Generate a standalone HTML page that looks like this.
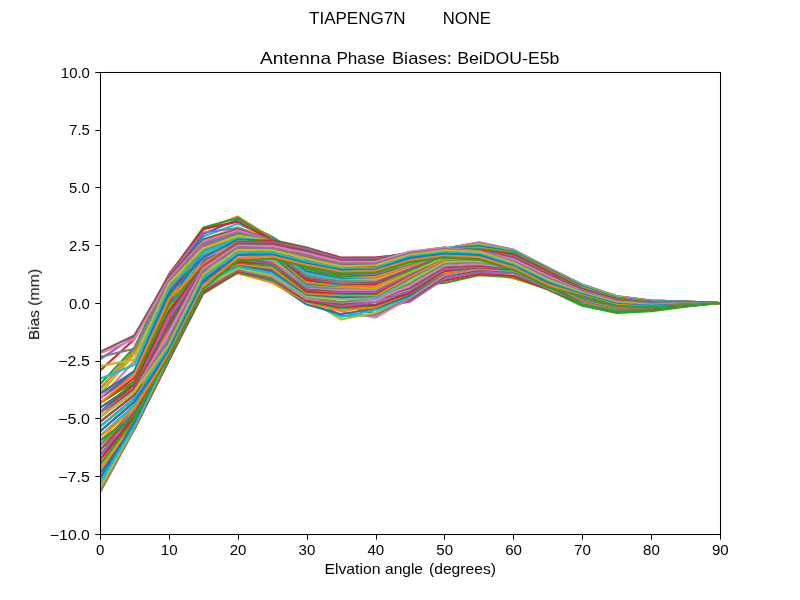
<!DOCTYPE html>
<html><head><meta charset="utf-8"><title>Antenna Phase Biases</title>
<style>
html,body{margin:0;padding:0;background:#fff;}
body{width:800px;height:600px;overflow:hidden;}
svg{display:block;}
text{font-family:"Liberation Sans",sans-serif;fill:#000;}
</style></head><body>
<svg width="800" height="600" viewBox="0 0 800 600">
<rect x="0" y="0" width="800" height="600" fill="#ffffff"/>
<defs><clipPath id="ax"><rect x="100" y="72" width="620" height="462"/></clipPath></defs>
<g clip-path="url(#ax)" fill="none" stroke-width="2.15" stroke-linejoin="round" stroke-linecap="square">
<polyline points="100.0,440.7 134.4,415.3 168.9,356.2 203.3,288.8 237.8,260.7 272.2,258.8 306.7,266.8 341.1,273.5 375.6,272.5 410.0,262.1 444.4,257.4 478.9,259.4 513.3,269.8 547.8,287.3 582.2,296.4 616.7,305.8 651.1,307.3 685.6,305.1 720.0,303.0" stroke="#1f77b4"/>
<polyline points="100.0,445.4 134.4,415.3 168.9,357.3 203.3,288.9 237.8,261.7 272.2,260.7 306.7,271.2 341.1,278.9 375.6,281.6 410.0,274.6 444.4,274.5 478.9,271.2 513.3,278.3 547.8,288.9 582.2,302.0 616.7,310.3 651.1,309.3 685.6,306.1 720.0,303.0" stroke="#ff7f0e"/>
<polyline points="100.0,450.1 134.4,415.3 168.9,357.3 203.3,288.9 237.8,264.0 272.2,263.0 306.7,275.8 341.1,285.9 375.6,290.8 410.0,284.7 444.4,283.0 478.9,275.2 513.3,277.1 547.8,289.5 582.2,305.8 616.7,313.0 651.1,311.2 685.6,306.7 720.0,303.0" stroke="#2ca02c"/>
<polyline points="100.0,454.8 134.4,418.7 168.9,357.3 203.3,291.2 237.8,264.0 272.2,265.3 306.7,278.1 341.1,292.8 375.6,297.7 410.0,295.3 444.4,280.6 478.9,273.8 513.3,275.7 547.8,289.1 582.2,303.6 616.7,310.8 651.1,309.6 685.6,306.2 720.0,303.0" stroke="#d62728"/>
<polyline points="100.0,454.8 134.4,418.7 168.9,357.3 203.3,291.2 237.8,265.4 272.2,267.3 306.7,282.8 341.1,297.7 375.6,307.1 410.0,301.7 444.4,278.7 478.9,272.1 513.3,273.3 547.8,288.6 582.2,302.8 616.7,310.1 651.1,309.2 685.6,306.0 720.0,303.0" stroke="#9467bd"/>
<polyline points="100.0,459.5 134.4,418.7 168.9,357.3 203.3,291.2 237.8,266.2 272.2,269.8 306.7,287.4 341.1,304.5 375.6,314.1 410.0,299.6 444.4,276.8 478.9,270.3 513.3,271.5 547.8,288.2 582.2,302.5 616.7,309.8 651.1,309.0 685.6,305.8 720.0,303.0" stroke="#8c564b"/>
<polyline points="100.0,464.2 134.4,422.1 168.9,358.1 203.3,291.1 237.8,268.5 272.2,272.1 306.7,289.7 341.1,311.4 375.6,317.5 410.0,297.7 444.4,275.0 478.9,268.9 513.3,270.8 547.8,287.9 582.2,302.2 616.7,309.5 651.1,308.8 685.6,305.7 720.0,303.0" stroke="#e377c2"/>
<polyline points="100.0,464.2 134.4,422.1 168.9,357.3 203.3,291.2 237.8,268.5 272.2,274.4 306.7,294.4 341.1,316.1 375.6,315.1 410.0,296.2 444.4,273.5 478.9,268.4 513.3,270.4 547.8,287.6 582.2,302.0 616.7,309.3 651.1,308.6 685.6,305.6 720.0,303.0" stroke="#7f7f7f"/>
<polyline points="100.0,468.9 134.4,425.5 168.9,359.9 203.3,291.2 237.8,269.7 272.2,276.8 306.7,298.2 341.1,319.5 375.6,312.7 410.0,295.3 444.4,272.6 478.9,268.1 513.3,270.4 547.8,287.3 582.2,301.8 616.7,309.1 651.1,308.5 685.6,305.5 720.0,303.0" stroke="#bcbd22"/>
<polyline points="100.0,473.6 134.4,425.5 168.9,359.9 203.3,291.2 237.8,270.8 272.2,278.9 306.7,301.3 341.1,316.6 375.6,310.2 410.0,295.4 444.4,272.4 478.9,268.0 513.3,270.4 547.8,286.9 582.2,301.5 616.7,308.8 651.1,308.3 685.6,305.5 720.0,303.0" stroke="#17becf"/>
<polyline points="100.0,473.6 134.4,425.5 168.9,359.9 203.3,291.2 237.8,270.8 272.2,281.2 306.7,304.5 341.1,314.2 375.6,308.3 410.0,295.4 444.4,272.4 478.9,267.8 513.3,269.3 547.8,286.5 582.2,301.2 616.7,308.5 651.1,308.2 685.6,305.4 720.0,303.0" stroke="#1f77b4"/>
<polyline points="100.0,478.3 134.4,425.5 168.9,359.9 203.3,291.2 237.8,273.1 272.2,282.5 306.7,302.1 341.1,310.8 375.6,307.1 410.0,293.1 444.4,272.4 478.9,268.0 513.3,269.3 547.8,286.1 582.2,301.1 616.7,308.3 651.1,308.1 685.6,305.4 720.0,303.0" stroke="#ff7f0e"/>
<polyline points="100.0,483.0 134.4,425.5 168.9,359.9 203.3,293.6 237.8,272.5 272.2,279.7 306.7,301.3 341.1,308.4 375.6,305.4 410.0,293.3 444.4,271.2 478.9,267.5 513.3,269.3 547.8,285.7 582.2,304.3 616.7,311.4 651.1,309.9 685.6,305.9 720.0,303.0" stroke="#2ca02c"/>
<polyline points="100.0,483.0 134.4,428.9 168.9,360.0 203.3,292.6 237.8,271.1 272.2,277.8 306.7,300.6 341.1,306.8 375.6,304.8 410.0,292.4 444.4,270.7 478.9,267.3 513.3,269.3 547.8,285.3 582.2,300.5 616.7,307.8 651.1,307.7 685.6,305.3 720.0,303.0" stroke="#d62728"/>
<polyline points="100.0,488.3 134.4,427.6 168.9,360.0 203.3,291.2 237.8,270.2 272.2,277.3 306.7,299.0 341.1,305.9 375.6,302.5 410.0,290.4 444.4,269.3 478.9,267.0 513.3,268.1 547.8,284.9 582.2,300.1 616.7,307.4 651.1,307.5 685.6,305.1 720.0,303.0" stroke="#9467bd"/>
<polyline points="100.0,492.4 134.4,428.9 168.9,359.9 203.3,291.2 237.8,268.5 272.2,276.7 306.7,299.2 341.1,304.5 375.6,300.1 410.0,288.0 444.4,267.4 478.9,265.6 513.3,268.1 547.8,284.5 582.2,299.8 616.7,307.3 651.1,307.4 685.6,305.1 720.0,303.0" stroke="#8c564b"/>
<polyline points="100.0,491.5 134.4,427.1 168.9,357.3 203.3,288.8 237.8,268.5 272.2,276.7 306.7,299.0 341.1,302.5 375.6,300.1 410.0,285.6 444.4,265.5 478.9,263.9 513.3,267.7 547.8,284.1 582.2,299.6 616.7,307.1 651.1,307.3 685.6,305.0 720.0,303.0" stroke="#e377c2"/>
<polyline points="100.0,490.5 134.4,426.9 168.9,357.3 203.3,286.5 237.8,268.5 272.2,275.9 306.7,297.3 341.1,302.1 375.6,297.8 410.0,283.2 444.4,263.6 478.9,262.2 513.3,267.0 547.8,283.7 582.2,299.3 616.7,306.9 651.1,307.2 685.6,305.0 720.0,303.0" stroke="#7f7f7f"/>
<polyline points="100.0,488.1 134.4,426.6 168.9,354.3 203.3,286.5 237.8,268.3 272.2,275.4 306.7,296.7 341.1,299.6 375.6,297.7 410.0,280.8 444.4,261.7 478.9,260.9 513.3,267.0 547.8,283.2 582.2,299.1 616.7,306.6 651.1,307.0 685.6,304.9 720.0,303.0" stroke="#bcbd22"/>
<polyline points="100.0,483.0 134.4,425.5 168.9,352.0 203.3,284.1 237.8,266.4 272.2,273.5 306.7,295.3 341.1,297.5 375.6,297.8 410.0,278.9 444.4,260.3 478.9,259.3 513.3,265.9 547.8,282.8 582.2,298.8 616.7,306.4 651.1,306.8 685.6,304.8 720.0,303.0" stroke="#17becf"/>
<polyline points="100.0,478.3 134.4,422.1 168.9,352.0 203.3,282.1 237.8,264.5 272.2,271.1 306.7,294.4 341.1,297.2 375.6,295.7 410.0,277.5 444.4,259.3 478.9,259.5 513.3,265.9 547.8,282.3 582.2,298.6 616.7,306.1 651.1,306.7 685.6,304.7 720.0,303.0" stroke="#1f77b4"/>
<polyline points="100.0,468.9 134.4,418.7 168.9,349.3 203.3,279.4 237.8,264.0 272.2,268.3 306.7,293.4 341.1,295.2 375.6,295.5 410.0,276.9 444.4,259.3 478.9,259.3 513.3,265.9 547.8,281.9 582.2,298.3 616.7,305.9 651.1,306.5 685.6,304.6 720.0,303.0" stroke="#ff7f0e"/>
<polyline points="100.0,464.2 134.4,418.7 168.9,346.7 203.3,279.4 237.8,262.6 272.2,265.4 306.7,292.1 341.1,293.8 375.6,293.8 410.0,274.6 444.4,257.2 478.9,259.3 513.3,264.8 547.8,281.4 582.2,298.0 616.7,305.6 651.1,306.3 685.6,304.6 720.0,303.0" stroke="#2ca02c"/>
<polyline points="100.0,459.5 134.4,415.3 168.9,344.0 203.3,277.0 237.8,261.7 272.2,263.0 306.7,291.5 341.1,292.8 375.6,293.2 410.0,274.6 444.4,257.2 478.9,257.2 513.3,264.8 547.8,281.0 582.2,297.7 616.7,305.4 651.1,306.1 685.6,304.5 720.0,303.0" stroke="#d62728"/>
<polyline points="100.0,454.8 134.4,411.9 168.9,341.3 203.3,277.0 237.8,259.4 272.2,263.0 306.7,289.7 341.1,291.9 375.6,291.9 410.0,274.1 444.4,257.4 478.9,257.6 513.3,264.0 547.8,280.5 582.2,297.5 616.7,305.1 651.1,306.0 685.6,304.4 720.0,303.0" stroke="#9467bd"/>
<polyline points="100.0,450.1 134.4,411.9 168.9,338.7 203.3,274.5 237.8,258.8 272.2,261.6 306.7,289.5 341.1,290.5 375.6,290.8 410.0,272.3 444.4,257.2 478.9,257.2 513.3,263.7 547.8,280.1 582.2,297.2 616.7,304.9 651.1,305.8 685.6,304.3 720.0,303.0" stroke="#8c564b"/>
<polyline points="100.0,445.4 134.4,408.5 168.9,337.2 203.3,272.2 237.8,257.1 272.2,260.7 306.7,287.4 341.1,290.0 375.6,289.9 410.0,272.3 444.4,257.2 478.9,257.2 513.3,262.5 547.8,279.6 582.2,296.9 616.7,304.6 651.1,305.6 685.6,304.2 720.0,303.0" stroke="#e377c2"/>
<polyline points="100.0,445.4 134.4,408.5 168.9,336.0 203.3,272.2 237.8,254.8 272.2,258.5 306.7,286.6 341.1,288.2 375.6,288.5 410.0,272.3 444.4,257.2 478.9,257.2 513.3,262.5 547.8,279.2 582.2,296.7 616.7,304.4 651.1,305.5 685.6,304.2 720.0,303.0" stroke="#7f7f7f"/>
<polyline points="100.0,440.7 134.4,405.1 168.9,333.3 203.3,269.9 237.8,254.8 272.2,258.5 306.7,285.1 341.1,287.0 375.6,288.0 410.0,272.3 444.4,257.2 478.9,255.0 513.3,262.5 547.8,278.7 582.2,296.4 616.7,304.2 651.1,305.3 685.6,304.1 720.0,303.0" stroke="#bcbd22"/>
<polyline points="100.0,436.0 134.4,405.1 168.9,330.7 203.3,267.5 237.8,252.6 272.2,256.2 306.7,285.1 341.1,285.9 375.6,286.2 410.0,270.0 444.4,255.0 478.9,255.0 513.3,261.4 547.8,278.3 582.2,296.1 616.7,303.9 651.1,305.1 685.6,304.0 720.0,303.0" stroke="#17becf"/>
<polyline points="100.0,431.3 134.4,401.7 168.9,327.7 203.3,266.9 237.8,251.2 272.2,256.0 306.7,283.7 341.1,286.1 375.6,286.0 410.0,270.3 444.4,255.5 478.9,254.7 513.3,261.4 547.8,277.8 582.2,295.8 616.7,303.7 651.1,305.0 685.6,303.9 720.0,303.0" stroke="#1f77b4"/>
<polyline points="100.0,431.3 134.4,401.7 168.9,325.4 203.3,265.1 237.8,250.3 272.2,253.9 306.7,282.8 341.1,285.9 375.6,286.2 410.0,270.0 444.4,255.0 478.9,255.0 513.3,260.3 547.8,277.4 582.2,295.5 616.7,303.4 651.1,304.8 685.6,303.8 720.0,303.0" stroke="#ff7f0e"/>
<polyline points="100.0,426.6 134.4,398.3 168.9,322.7 203.3,262.7 237.8,248.0 272.2,253.9 306.7,280.5 341.1,284.6 375.6,284.1 410.0,270.0 444.4,255.0 478.9,252.8 513.3,260.3 547.8,276.9 582.2,295.2 616.7,303.2 651.1,304.6 685.6,303.7 720.0,303.0" stroke="#2ca02c"/>
<polyline points="100.0,426.6 134.4,398.3 168.9,320.0 203.3,262.7 237.8,248.0 272.2,251.6 306.7,279.9 341.1,283.5 375.6,283.9 410.0,267.7 444.4,255.0 478.9,252.8 513.3,260.3 547.8,276.5 582.2,294.9 616.7,302.9 651.1,304.5 685.6,303.7 720.0,303.0" stroke="#d62728"/>
<polyline points="100.0,421.9 134.4,394.9 168.9,317.4 203.3,260.4 237.8,245.7 272.2,251.6 306.7,278.1 341.1,283.2 375.6,282.2 410.0,267.7 444.4,255.0 478.9,252.8 513.3,259.2 547.8,276.0 582.2,294.6 616.7,302.6 651.1,304.3 685.6,303.6 720.0,303.0" stroke="#9467bd"/>
<polyline points="100.0,421.9 134.4,394.9 168.9,314.4 203.3,259.3 237.8,244.5 272.2,250.3 306.7,278.1 341.1,281.2 375.6,281.6 410.0,267.7 444.4,255.0 478.9,252.8 513.3,259.2 547.8,275.6 582.2,294.2 616.7,302.4 651.1,304.1 685.6,303.5 720.0,303.0" stroke="#8c564b"/>
<polyline points="100.0,417.2 134.4,391.5 168.9,312.1 203.3,258.0 237.8,243.5 272.2,249.4 306.7,276.0 341.1,281.2 375.6,280.2 410.0,266.9 444.4,253.7 478.9,251.9 513.3,258.0 547.8,275.1 582.2,293.9 616.7,302.1 651.1,304.0 685.6,303.4 720.0,303.0" stroke="#e377c2"/>
<polyline points="100.0,412.5 134.4,391.5 168.9,309.4 203.3,255.6 237.8,241.2 272.2,249.4 306.7,275.8 341.1,281.2 375.6,279.2 410.0,265.4 444.4,252.8 478.9,250.7 513.3,258.0 547.8,274.6 582.2,293.5 616.7,301.8 651.1,303.8 685.6,303.3 720.0,303.0" stroke="#7f7f7f"/>
<polyline points="100.0,412.5 134.4,388.1 168.9,306.7 203.3,253.2 237.8,241.2 272.2,247.1 306.7,273.5 341.1,279.3 375.6,279.2 410.0,265.4 444.4,252.8 478.9,250.7 513.3,256.9 547.8,274.2 582.2,293.2 616.7,301.6 651.1,303.6 685.6,303.2 720.0,303.0" stroke="#bcbd22"/>
<polyline points="100.0,407.8 134.4,384.7 168.9,304.1 203.3,253.2 237.8,238.9 272.2,247.1 306.7,273.5 341.1,278.9 375.6,276.9 410.0,265.4 444.4,252.8 478.9,250.7 513.3,256.9 547.8,273.8 582.2,292.8 616.7,301.3 651.1,303.5 685.6,303.2 720.0,303.0" stroke="#17becf"/>
<polyline points="100.0,407.8 134.4,384.7 168.9,302.1 203.3,250.8 237.8,237.9 272.2,245.5 306.7,271.2 341.1,277.4 375.6,277.3 410.0,265.4 444.4,252.8 478.9,250.7 513.3,256.5 547.8,273.3 582.2,292.4 616.7,301.0 651.1,303.3 685.6,303.1 720.0,303.0" stroke="#1f77b4"/>
<polyline points="100.0,403.1 134.4,381.3 168.9,298.8 203.3,248.5 237.8,236.6 272.2,244.8 306.7,268.9 341.1,276.6 375.6,276.9 410.0,265.4 444.4,252.8 478.9,248.5 513.3,255.8 547.8,272.9 582.2,292.0 616.7,300.7 651.1,303.1 685.6,303.0 720.0,303.0" stroke="#ff7f0e"/>
<polyline points="100.0,403.1 134.4,381.3 168.9,296.1 203.3,247.9 237.8,234.1 272.2,242.5 306.7,268.9 341.1,276.6 375.6,274.6 410.0,264.0 444.4,251.8 478.9,248.6 513.3,255.8 547.8,272.5 582.2,291.5 616.7,300.4 651.1,302.9 685.6,302.9 720.0,303.0" stroke="#2ca02c"/>
<polyline points="100.0,403.1 134.4,377.9 168.9,293.4 203.3,246.1 237.8,232.1 272.2,242.5 306.7,266.6 341.1,274.2 375.6,274.6 410.0,263.1 444.4,250.6 478.9,248.5 513.3,254.7 547.8,272.1 582.2,291.1 616.7,300.1 651.1,302.7 685.6,302.8 720.0,303.0" stroke="#d62728"/>
<polyline points="100.0,398.4 134.4,374.5 168.9,290.8 203.3,246.1 237.8,232.1 272.2,242.5 306.7,266.6 341.1,274.5 375.6,274.0 410.0,263.1 444.4,250.6 478.9,248.5 513.3,254.7 547.8,271.7 582.2,290.6 616.7,299.8 651.1,302.5 685.6,302.7 720.0,303.0" stroke="#9467bd"/>
<polyline points="100.0,398.4 134.4,371.1 168.9,289.7 203.3,244.1 237.8,230.3 272.2,240.8 306.7,265.4 341.1,274.2 375.6,272.3 410.0,263.1 444.4,250.6 478.9,246.3 513.3,254.7 547.8,271.3 582.2,290.1 616.7,299.5 651.1,302.3 685.6,302.6 720.0,303.0" stroke="#8c564b"/>
<polyline points="100.0,398.4 134.4,360.9 168.9,288.1 203.3,243.7 237.8,229.8 272.2,240.3 306.7,264.2 341.1,271.9 375.6,272.3 410.0,263.1 444.4,250.6 478.9,246.3 513.3,253.6 547.8,270.9 582.2,289.6 616.7,299.1 651.1,302.1 685.6,302.6 720.0,303.0" stroke="#e377c2"/>
<polyline points="100.0,393.7 134.4,354.1 168.9,285.5 203.3,241.4 237.8,227.5 272.2,240.3 306.7,261.9 341.1,271.9 375.6,272.3 410.0,260.8 444.4,250.6 478.9,246.3 513.3,253.6 547.8,270.6 582.2,289.1 616.7,298.8 651.1,301.9 685.6,302.5 720.0,303.0" stroke="#7f7f7f"/>
<polyline points="100.0,393.7 134.4,354.1 168.9,283.1 203.3,239.4 237.8,227.3 272.2,238.4 306.7,261.9 341.1,270.6 375.6,270.6 410.0,261.1 444.4,250.3 478.9,245.3 513.3,252.8 547.8,270.2 582.2,288.5 616.7,298.5 651.1,301.8 685.6,302.4 720.0,303.0" stroke="#bcbd22"/>
<polyline points="100.0,389.0 134.4,350.7 168.9,281.3 203.3,236.5 237.8,223.7 272.2,237.5 306.7,260.7 341.1,269.6 375.6,269.6 410.0,260.6 444.4,250.1 478.9,244.9 513.3,252.4 547.8,269.8 582.2,288.0 616.7,298.2 651.1,301.6 685.6,302.3 720.0,303.0" stroke="#17becf"/>
<polyline points="100.0,389.0 134.4,350.7 168.9,279.7 203.3,234.0 237.8,219.4 272.2,237.0 306.7,259.6 341.1,268.6 375.6,268.7 410.0,260.2 444.4,249.8 478.9,244.4 513.3,252.0 547.8,269.5 582.2,287.4 616.7,297.9 651.1,301.4 685.6,302.1 720.0,303.0" stroke="#1f77b4"/>
<polyline points="100.0,389.0 134.4,350.7 168.9,278.3 203.3,229.9 237.8,216.6 272.2,238.4 306.7,258.4 341.1,267.7 375.6,267.7 410.0,259.7 444.4,249.6 478.9,244.0 513.3,251.6 547.8,269.2 582.2,286.8 616.7,297.6 651.1,301.2 685.6,302.0 720.0,303.0" stroke="#ff7f0e"/>
<polyline points="100.0,384.3 134.4,347.4 168.9,275.9 203.3,227.5 237.8,218.0 272.2,239.4 306.7,257.2 341.1,266.7 375.6,266.7 410.0,259.2 444.4,249.3 478.9,243.7 513.3,251.2 547.8,268.9 582.2,286.3 616.7,297.3 651.1,301.0 685.6,301.8 720.0,303.0" stroke="#2ca02c"/>
<polyline points="100.0,370.6 134.4,339.3 168.9,274.5 203.3,228.9 237.8,221.6 272.2,240.3 306.7,256.0 341.1,265.7 375.6,265.7 410.0,258.7 444.4,249.1 478.9,243.3 513.3,250.8 547.8,268.6 582.2,285.7 616.7,296.9 651.1,300.8 685.6,301.7 720.0,303.0" stroke="#d62728"/>
<polyline points="100.0,359.4 134.4,336.4 168.9,275.4 203.3,232.5 237.8,228.0 272.2,240.5 306.7,254.9 341.1,264.7 375.6,264.8 410.0,258.2 444.4,248.9 478.9,243.0 513.3,250.4 547.8,268.2 582.2,285.1 616.7,296.6 651.1,300.6 685.6,301.6 720.0,303.0" stroke="#9467bd"/>
<polyline points="100.0,352.0 134.4,335.4 168.9,276.9 203.3,239.3 237.8,229.4 272.2,240.7 306.7,253.8 341.1,263.8 375.6,263.8 410.0,257.8 444.4,248.8 478.9,242.6 513.3,249.9 547.8,267.8 582.2,284.7 616.7,296.2 651.1,300.5 685.6,301.5 720.0,303.0" stroke="#8c564b"/>
<polyline points="100.0,353.4 134.4,339.3 168.9,279.2 203.3,241.4 237.8,230.5 272.2,240.8 306.7,252.8 341.1,262.8 375.6,262.8 410.0,257.3 444.4,248.7 478.9,242.4 513.3,249.5 547.8,267.5 582.2,284.5 616.7,296.0 651.1,300.5 685.6,301.5 720.0,303.0" stroke="#e377c2"/>
<polyline points="100.0,356.8 134.4,348.8 168.9,281.1 203.3,243.2 237.8,232.6 272.2,240.8 306.7,251.8 341.1,261.9 375.6,261.8 410.0,256.8 444.4,248.6 478.9,243.2 513.3,250.0 547.8,267.7 582.2,284.8 616.7,296.2 651.1,300.6 685.6,301.5 720.0,303.0" stroke="#7f7f7f"/>
<polyline points="100.0,366.2 134.4,359.6 168.9,283.5 203.3,248.2 237.8,235.5 272.2,240.8 306.7,250.9 341.1,261.1 375.6,260.8 410.0,256.3 444.4,248.5 478.9,244.1 513.3,250.4 547.8,268.0 582.2,285.4 616.7,296.6 651.1,301.0 685.6,301.6 720.0,303.0" stroke="#bcbd22"/>
<polyline points="100.0,378.9 134.4,364.8 168.9,288.0 203.3,251.7 237.8,238.3 272.2,240.8 306.7,249.9 341.1,260.2 375.6,259.8 410.0,255.8 444.4,248.4 478.9,245.2 513.3,250.9 547.8,268.4 582.2,286.0 616.7,297.2 651.1,301.4 685.6,301.7 720.0,303.0" stroke="#17becf"/>
<polyline points="100.0,393.7 134.4,371.1 168.9,293.5 203.3,257.4 237.8,239.8 272.2,240.8 306.7,248.9 341.1,259.4 375.6,259.0 410.0,255.4 444.4,248.3 478.9,246.3 513.3,251.8 547.8,268.8 582.2,286.7 616.7,297.8 651.1,301.8 685.6,301.9 720.0,303.0" stroke="#1f77b4"/>
<polyline points="100.0,403.1 134.4,374.5 168.9,299.0 203.3,264.1 237.8,241.2 272.2,240.8 306.7,248.0 341.1,258.7 375.6,258.0 410.0,254.9 444.4,248.1 478.9,247.7 513.3,252.6 547.8,269.7 582.2,287.6 616.7,298.3 651.1,302.2 685.6,302.0 720.0,303.0" stroke="#ff7f0e"/>
<polyline points="100.0,412.5 134.4,381.3 168.9,304.9 203.3,266.0 237.8,242.1 272.2,239.8 306.7,247.5 341.1,258.0 375.6,257.5 410.0,254.4 444.4,248.0 478.9,249.1 513.3,253.3 547.8,270.6 582.2,288.5 616.7,298.8 651.1,302.6 685.6,302.2 720.0,303.0" stroke="#2ca02c"/>
<polyline points="100.0,412.5 134.4,384.7 168.9,311.4 203.3,266.4 237.8,242.6 272.2,240.8 306.7,248.0 341.1,257.5 375.6,257.5 410.0,253.7 444.4,247.8 478.9,250.5 513.3,254.6 547.8,271.5 582.2,289.2 616.7,299.4 651.1,303.1 685.6,302.4 720.0,303.0" stroke="#d62728"/>
<polyline points="100.0,412.5 134.4,388.1 168.9,318.2 203.3,266.9 237.8,243.1 272.2,242.2 306.7,248.9 341.1,259.0 375.6,258.5 410.0,252.9 444.4,247.7 478.9,251.0 513.3,256.0 547.8,272.9 582.2,289.9 616.7,300.0 651.1,303.4 685.6,302.6 720.0,303.0" stroke="#9467bd"/>
<polyline points="100.0,417.2 134.4,388.1 168.9,325.4 203.3,267.4 237.8,244.0 272.2,243.6 306.7,250.9 341.1,260.4 375.6,259.9 410.0,252.0 444.4,247.5 478.9,251.4 513.3,257.4 547.8,274.2 582.2,290.5 616.7,300.7 651.1,303.8 685.6,302.8 720.0,303.0" stroke="#8c564b"/>
<polyline points="100.0,417.2 134.4,391.5 168.9,332.4 203.3,268.3 237.8,245.5 272.2,246.0 306.7,253.3 341.1,261.9 375.6,261.9 410.0,251.5 444.4,247.5 478.9,251.4 513.3,259.3 547.8,276.0 582.2,291.2 616.7,301.4 651.1,304.0 685.6,303.1 720.0,303.0" stroke="#e377c2"/>
<polyline points="100.0,417.2 134.4,391.5 168.9,339.3 203.3,270.7 237.8,247.4 272.2,248.4 306.7,256.2 341.1,263.8 375.6,263.3 410.0,253.4 444.4,248.9 478.9,251.6 513.3,261.2 547.8,277.8 582.2,292.1 616.7,301.8 651.1,304.3 685.6,303.4 720.0,303.0" stroke="#7f7f7f"/>
<polyline points="100.0,417.2 134.4,391.5 168.9,344.8 203.3,274.5 237.8,249.7 272.2,250.3 306.7,258.6 341.1,266.2 375.6,265.2 410.0,254.9 444.4,250.3 478.9,251.9 513.3,262.6 547.8,279.6 582.2,292.8 616.7,302.3 651.1,304.7 685.6,303.7 720.0,303.0" stroke="#bcbd22"/>
<polyline points="100.0,426.6 134.4,398.3 168.9,347.6 203.3,277.4 237.8,252.1 272.2,252.6 306.7,261.5 341.1,268.6 375.6,267.7 410.0,256.3 444.4,252.2 478.9,253.7 513.3,264.5 547.8,281.4 582.2,293.5 616.7,303.2 651.1,305.3 685.6,304.0 720.0,303.0" stroke="#17becf"/>
<polyline points="100.0,431.3 134.4,401.7 168.9,350.5 203.3,281.2 237.8,255.0 272.2,254.5 306.7,263.4 341.1,270.1 375.6,269.6 410.0,257.8 444.4,253.7 478.9,255.1 513.3,265.9 547.8,282.8 582.2,294.4 616.7,304.1 651.1,306.0 685.6,304.4 720.0,303.0" stroke="#1f77b4"/>
<polyline points="100.0,436.0 134.4,408.5 168.9,353.4 203.3,285.0 237.8,257.8 272.2,256.4 306.7,264.9 341.1,271.5 375.6,270.6 410.0,260.2 444.4,255.5 478.9,257.1 513.3,267.3 547.8,284.6 582.2,295.3 616.7,304.9 651.1,306.7 685.6,304.8 720.0,303.0" stroke="#ff7f0e"/>
<polyline points="100.0,440.7 134.4,415.3 168.9,356.2 203.3,288.8 237.8,260.7 272.2,258.8 306.7,266.8 341.1,273.5 375.6,272.5 410.0,262.1 444.4,257.4 478.9,259.4 513.3,269.8 547.8,287.3 582.2,296.4 616.7,305.8 651.1,307.3 685.6,305.1 720.0,303.0" stroke="#2ca02c"/>
</g>
<g stroke="#000" stroke-width="1.05" fill="none">
<line x1="100.50" y1="534.5" x2="100.50" y2="539.6"/>
<line x1="169.50" y1="534.5" x2="169.50" y2="539.6"/>
<line x1="238.50" y1="534.5" x2="238.50" y2="539.6"/>
<line x1="307.50" y1="534.5" x2="307.50" y2="539.6"/>
<line x1="376.50" y1="534.5" x2="376.50" y2="539.6"/>
<line x1="444.50" y1="534.5" x2="444.50" y2="539.6"/>
<line x1="513.50" y1="534.5" x2="513.50" y2="539.6"/>
<line x1="582.50" y1="534.5" x2="582.50" y2="539.6"/>
<line x1="651.50" y1="534.5" x2="651.50" y2="539.6"/>
<line x1="720.50" y1="534.5" x2="720.50" y2="539.6"/>
<line x1="95.3" y1="72.50" x2="100.5" y2="72.50"/>
<line x1="95.3" y1="130.50" x2="100.5" y2="130.50"/>
<line x1="95.3" y1="187.50" x2="100.5" y2="187.50"/>
<line x1="95.3" y1="245.50" x2="100.5" y2="245.50"/>
<line x1="95.3" y1="303.50" x2="100.5" y2="303.50"/>
<line x1="95.3" y1="361.50" x2="100.5" y2="361.50"/>
<line x1="95.3" y1="418.50" x2="100.5" y2="418.50"/>
<line x1="95.3" y1="476.50" x2="100.5" y2="476.50"/>
<line x1="95.3" y1="534.50" x2="100.5" y2="534.50"/>
</g>
<rect x="100.5" y="72.5" width="620" height="462" fill="none" stroke="#000" stroke-width="1.05"/>
<g opacity="0.999">
<text x="309.00" y="24.30" font-size="17.00" text-anchor="start" textLength="96.50" lengthAdjust="spacingAndGlyphs">TIAPENG7N</text>
<text x="442.75" y="24.30" font-size="17.00" text-anchor="start" textLength="48.25" lengthAdjust="spacingAndGlyphs">NONE</text>
<text x="260.00" y="64.00" font-size="17.00" text-anchor="start" textLength="71.00" lengthAdjust="spacingAndGlyphs">Antenna</text>
<text x="336.40" y="64.00" font-size="17.00" text-anchor="start" textLength="48.60" lengthAdjust="spacingAndGlyphs">Phase</text>
<text x="391.90" y="64.00" font-size="17.00" text-anchor="start" textLength="59.90" lengthAdjust="spacingAndGlyphs">Biases:</text>
<text x="457.20" y="64.00" font-size="17.00" text-anchor="start" textLength="102.20" lengthAdjust="spacingAndGlyphs">BeiDOU-E5b</text>
<text x="324.50" y="573.70" font-size="14.10" text-anchor="start" textLength="56.00" lengthAdjust="spacingAndGlyphs">Elvation</text>
<text x="385.00" y="573.70" font-size="14.10" text-anchor="start" textLength="38.00" lengthAdjust="spacingAndGlyphs">angle</text>
<text x="429.00" y="573.70" font-size="14.10" text-anchor="start" textLength="67.00" lengthAdjust="spacingAndGlyphs">(degrees)</text>
<g transform="translate(39.1,339.8) rotate(-90)">
<text x="-0.20" y="0.00" font-size="14.10" text-anchor="start" textLength="30.00" lengthAdjust="spacingAndGlyphs">Bias</text>
<text x="34.00" y="0.00" font-size="14.10" text-anchor="start" textLength="37.00" lengthAdjust="spacingAndGlyphs">(mm)</text>
</g>
<text x="100.30" y="554.60" font-size="14.10" text-anchor="middle" textLength="8.40" lengthAdjust="spacingAndGlyphs">0</text>
<text x="169.19" y="554.60" font-size="14.10" text-anchor="middle" textLength="16.80" lengthAdjust="spacingAndGlyphs">10</text>
<text x="238.08" y="554.60" font-size="14.10" text-anchor="middle" textLength="16.80" lengthAdjust="spacingAndGlyphs">20</text>
<text x="306.97" y="554.60" font-size="14.10" text-anchor="middle" textLength="16.80" lengthAdjust="spacingAndGlyphs">30</text>
<text x="375.86" y="554.60" font-size="14.10" text-anchor="middle" textLength="16.80" lengthAdjust="spacingAndGlyphs">40</text>
<text x="444.74" y="554.60" font-size="14.10" text-anchor="middle" textLength="16.80" lengthAdjust="spacingAndGlyphs">50</text>
<text x="513.63" y="554.60" font-size="14.10" text-anchor="middle" textLength="16.80" lengthAdjust="spacingAndGlyphs">60</text>
<text x="582.52" y="554.60" font-size="14.10" text-anchor="middle" textLength="16.80" lengthAdjust="spacingAndGlyphs">70</text>
<text x="651.41" y="554.60" font-size="14.10" text-anchor="middle" textLength="16.80" lengthAdjust="spacingAndGlyphs">80</text>
<text x="720.30" y="554.60" font-size="14.10" text-anchor="middle" textLength="16.80" lengthAdjust="spacingAndGlyphs">90</text>
<text x="89.90" y="77.50" font-size="14.10" text-anchor="end" textLength="29.07" lengthAdjust="spacingAndGlyphs">10.0</text>
<text x="89.90" y="135.25" font-size="14.10" text-anchor="end" textLength="20.76" lengthAdjust="spacingAndGlyphs">7.5</text>
<text x="89.90" y="193.00" font-size="14.10" text-anchor="end" textLength="20.76" lengthAdjust="spacingAndGlyphs">5.0</text>
<text x="89.90" y="250.75" font-size="14.10" text-anchor="end" textLength="20.76" lengthAdjust="spacingAndGlyphs">2.5</text>
<text x="89.90" y="308.50" font-size="14.10" text-anchor="end" textLength="20.76" lengthAdjust="spacingAndGlyphs">0.0</text>
<text x="89.90" y="366.25" font-size="14.10" text-anchor="end" textLength="31.71" lengthAdjust="spacingAndGlyphs">−2.5</text>
<text x="89.90" y="424.00" font-size="14.10" text-anchor="end" textLength="31.71" lengthAdjust="spacingAndGlyphs">−5.0</text>
<text x="89.90" y="481.75" font-size="14.10" text-anchor="end" textLength="31.71" lengthAdjust="spacingAndGlyphs">−7.5</text>
<text x="89.90" y="539.50" font-size="14.10" text-anchor="end" textLength="40.02" lengthAdjust="spacingAndGlyphs">−10.0</text>
</g>
</svg>
</body></html>
